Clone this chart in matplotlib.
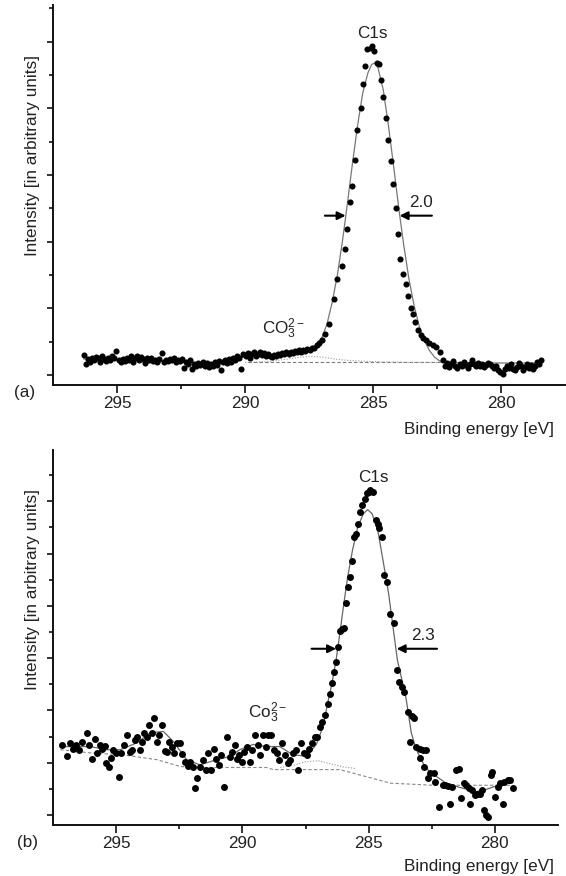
import matplotlib
matplotlib.use('Agg')
import matplotlib.pyplot as plt
from matplotlib.ticker import MultipleLocator, FixedLocator, NullFormatter

plt.rcParams['font.family'] = ['Liberation Sans', 'DejaVu Sans']
plt.rcParams['mathtext.fontset'] = 'custom'
plt.rcParams['mathtext.rm'] = 'Liberation Sans'
plt.rcParams['mathtext.it'] = 'Liberation Sans:italic'
plt.rcParams['mathtext.bf'] = 'Liberation Sans:bold'

# ---------------- data ----------------
x_major_ticks = [295, 290, 285, 280]
x_tick_labels = ['295', '290', '285', '280']
x_minor_ticks = [292.5, 287.5, 282.5]

# panel (a) measured points
a_energy = [296.30, 296.22, 296.14, 296.06, 295.98, 295.90, 295.82, 295.74, 295.66, 295.58,
            295.50, 295.42, 295.34, 295.26, 295.18, 295.10, 295.02, 294.94, 294.86, 294.78,
            294.70, 294.62, 294.54, 294.46, 294.38, 294.30, 294.22, 294.14, 294.06, 293.98,
            293.90, 293.82, 293.74, 293.66, 293.58, 293.50, 293.42, 293.34, 293.26, 293.18,
            293.10, 293.02, 292.94, 292.86, 292.78, 292.70, 292.62, 292.54, 292.46, 292.38,
            292.30, 292.22, 292.14, 292.06, 291.98, 291.90, 291.82, 291.74, 291.66, 291.58,
            291.50, 291.42, 291.34, 291.26, 291.18, 291.10, 291.02, 290.94, 290.86, 290.78,
            290.70, 290.62, 290.54, 290.46, 290.38, 290.30, 290.22, 290.14, 290.06, 289.98,
            289.90, 289.82, 289.74, 289.66, 289.58, 289.50, 289.42, 289.34, 289.26, 289.18,
            289.10, 289.02, 288.94, 288.86, 288.78, 288.70, 288.62, 288.54, 288.46, 288.38,
            288.30, 288.22, 288.14, 288.06, 287.98, 287.90, 287.82, 287.74, 287.66, 287.58,
            287.48, 287.38, 287.30, 287.20, 287.12, 287.00, 286.86, 286.72, 286.54, 286.41,
            286.23, 286.11, 286.03, 285.90, 285.81, 285.70, 285.61, 285.46, 285.39, 285.31,
            285.22, 285.09, 285.03, 284.96, 284.84, 284.78, 284.70, 284.61, 284.50, 284.40,
            284.30, 284.22, 284.11, 284.02, 283.93, 283.82, 283.73, 283.63, 283.52, 283.45,
            283.35, 283.25, 283.14, 283.04, 282.93, 282.80, 282.66, 282.52, 282.38, 282.26,
            282.18, 282.10, 282.02, 281.94, 281.86, 281.78, 281.70, 281.62, 281.54, 281.46,
            281.38, 281.30, 281.22, 281.14, 281.06, 280.98, 280.90, 280.82, 280.74, 280.66,
            280.58, 280.50, 280.42, 280.34, 280.26, 280.18, 280.10, 280.02, 279.94, 279.86,
            279.78, 279.70, 279.62, 279.54, 279.46, 279.38, 279.30, 279.22, 279.14, 279.06,
            278.98, 278.90, 278.82, 278.74, 278.66, 278.58, 278.50, 278.42]
a_counts = [0.30, 0.17, 0.24, 0.20, 0.26, 0.22, 0.27, 0.25, 0.19, 0.28,
            0.24, 0.21, 0.26, 0.23, 0.28, 0.25, 0.36, 0.22, 0.19, 0.24,
            0.21, 0.26, 0.23, 0.28, 0.20, 0.25, 0.29, 0.22, 0.27, 0.24,
            0.18, 0.26, 0.22, 0.25, 0.21, 0.23, 0.19, 0.24, 0.33, 0.20,
            0.23, 0.21, 0.24, 0.22, 0.25, 0.20, 0.23, 0.21, 0.24, 0.10,
            0.19, 0.16, 0.22, 0.09, 0.17, 0.13, 0.18, 0.15, 0.20, 0.14,
            0.18, 0.12, 0.17, 0.13, 0.19, 0.15, 0.21, 0.08, 0.19, 0.22,
            0.18, 0.24, 0.20, 0.26, 0.23, 0.28, 0.25, 0.09, 0.31, 0.28,
            0.33, 0.26, 0.31, 0.34, 0.29, 0.32, 0.35, 0.30, 0.33, 0.28,
            0.31, 0.29, 0.27, 0.30, 0.28, 0.32, 0.30, 0.33, 0.31, 0.34,
            0.32, 0.35, 0.33, 0.36, 0.34, 0.37, 0.35, 0.38, 0.36, 0.39,
            0.37, 0.40, 0.40, 0.45, 0.48, 0.52, 0.62, 0.77, 1.14, 1.44,
            1.63, 1.89, 2.19, 2.60, 2.84, 3.22, 3.67, 4.00, 4.36, 4.64,
            4.89, 4.90, 4.94, 4.86, 4.68, 4.66, 4.43, 4.17, 3.85, 3.52,
            3.21, 2.86, 2.50, 2.12, 1.74, 1.52, 1.37, 1.19, 1.00, 0.92,
            0.80, 0.68, 0.60, 0.55, 0.52, 0.48, 0.45, 0.42, 0.35, 0.22,
            0.14, 0.18, 0.12, 0.16, 0.21, 0.14, 0.10, 0.17, 0.13, 0.19,
            0.15, 0.11, 0.17, 0.22, 0.16, 0.13, 0.18, 0.14, 0.17, 0.12,
            0.15, 0.18, 0.16, 0.14, 0.10, 0.13, 0.08, 0.05, 0.02, 0.09,
            0.14, 0.11, 0.16, 0.09, 0.07, 0.12, 0.18, 0.13, 0.07, 0.12,
            0.17, 0.11, 0.15, 0.09, 0.13, 0.19, 0.16, 0.22]

# panel (a) fitted envelope
a_fit_energy = [296.3, 295.5, 294.5, 293.5, 292.5, 291.5, 290.8, 290.3, 289.8, 289.0,
                288.4, 287.8, 287.4, 287.2, 287.0, 286.8, 286.6, 286.4, 286.2, 286.0,
                285.8, 285.6, 285.4, 285.2, 285.05, 284.92, 284.8, 284.6, 284.4, 284.2,
                284.0, 283.8, 283.6, 283.4, 283.2, 283.0, 282.8, 282.6, 282.4, 282.2,
                281.0, 279.5, 278.4]
a_fit_counts = [0.24, 0.23, 0.23, 0.22, 0.19, 0.17, 0.19, 0.25, 0.29, 0.30,
                0.32, 0.35, 0.40, 0.46, 0.56, 0.76, 1.08, 1.48, 1.99, 2.57,
                3.18, 3.75, 4.23, 4.53, 4.66, 4.68, 4.60, 4.28, 3.75, 3.15,
                2.52, 1.95, 1.45, 1.05, 0.74, 0.52, 0.37, 0.27, 0.21, 0.19,
                0.18, 0.18, 0.18]
# panel (a) background and carbonate component
a_bg_energy = [289.9, 282.3]
a_bg_counts = [0.19, 0.19]
a_co3_energy = [290.0, 289.2, 288.5, 288.0, 287.5, 287.0, 286.5, 286.0, 285.0, 283.5, 282.3]
a_co3_counts = [0.19, 0.20, 0.23, 0.26, 0.28, 0.27, 0.24, 0.22, 0.20, 0.19, 0.19]

# panel (b) measured points
b_energy = [297.14, 296.96, 296.83, 296.71, 296.57, 296.46, 296.36, 296.17, 296.07, 295.97,
            295.83, 295.74, 295.64, 295.57, 295.43, 295.40, 295.29, 295.21, 295.11, 295.00,
            294.89, 294.79, 294.69, 294.57, 294.46, 294.36, 294.26, 294.17, 294.07, 293.97,
            293.89, 293.79, 293.69, 293.57, 293.50, 293.40, 293.29, 293.17, 293.07, 292.97,
            292.89, 292.79, 292.69, 292.57, 292.47, 292.39, 292.29, 292.17, 292.07, 291.97,
            291.86, 291.79, 291.69, 291.57, 291.46, 291.36, 291.26, 291.14, 291.03, 290.93,
            290.83, 290.71, 290.60, 290.50, 290.40, 290.29, 290.21, 290.14, 290.03, 289.93,
            289.83, 289.71, 289.60, 289.50, 289.40, 289.29, 289.17, 289.07, 288.97, 288.86,
            288.74, 288.64, 288.54, 288.43, 288.31, 288.21, 288.11, 288.00, 287.89, 287.79,
            287.69, 287.57, 287.46, 287.36, 287.26, 287.14, 287.03, 286.93, 286.83, 286.71,
            286.60, 286.53, 286.46, 286.36, 286.29, 286.21, 286.14, 286.04, 285.97, 285.89,
            285.83, 285.74, 285.67, 285.57, 285.50, 285.43, 285.36, 285.26, 285.14, 285.07,
            285.00, 284.93, 284.83, 284.71, 284.64, 284.57, 284.46, 284.40, 284.29, 284.14,
            284.00, 283.89, 283.79, 283.69, 283.60, 283.46, 283.36, 283.29, 283.21, 283.14,
            282.97, 282.86, 282.74, 282.97, 282.79, 282.64, 282.57, 282.43, 282.36, 282.21,
            282.07, 281.97, 281.86, 281.79, 281.71, 281.54, 281.43, 281.36, 281.21, 281.14,
            281.03, 281.00, 280.89, 280.79, 280.69, 280.60, 280.50, 280.43, 280.36, 280.29,
            280.17, 280.11, 280.00, 279.89, 279.79, 279.69, 279.64, 279.50, 279.40, 279.29]
b_counts = [1.34, 1.13, 1.38, 1.27, 1.34, 1.24, 1.40, 1.56, 1.34, 1.08,
            1.45, 1.19, 1.34, 1.27, 1.32, 0.99, 0.92, 1.10, 1.25, 1.19,
            0.73, 1.19, 1.34, 1.53, 1.21, 1.24, 1.43, 1.50, 1.25, 1.40,
            1.56, 1.50, 1.72, 1.56, 1.85, 1.40, 1.53, 1.72, 1.23, 1.21,
            1.40, 1.31, 1.18, 1.37, 1.37, 1.17, 1.02, 0.94, 1.02, 0.92,
            0.51, 0.70, 0.92, 1.06, 0.86, 1.18, 0.86, 1.27, 1.08, 0.96,
            1.15, 0.54, 1.50, 1.11, 1.21, 1.34, 1.08, 1.15, 1.02, 1.21,
            1.31, 1.02, 1.24, 1.53, 1.34, 1.15, 1.53, 1.31, 1.53, 1.53,
            1.24, 1.18, 1.05, 1.37, 1.15, 0.99, 1.05, 1.18, 1.25, 0.86,
            1.38, 1.18, 1.15, 1.27, 1.37, 1.50, 1.50, 1.69, 1.78, 1.91,
            2.13, 2.32, 2.52, 2.74, 2.93, 3.22, 3.52, 3.55, 3.57, 4.06,
            4.36, 4.55, 4.86, 5.32, 5.38, 5.57, 5.80, 5.92, 6.05, 6.15,
            6.18, 6.21, 6.18, 5.64, 5.57, 5.48, 5.32, 4.59, 4.46, 3.85,
            3.68, 2.77, 2.55, 2.45, 2.36, 1.97, 1.40, 1.89, 1.85, 1.31,
            1.27, 1.24, 1.24, 1.10, 0.92, 0.70, 0.80, 0.80, 0.64, 0.16,
            0.57, 0.57, 0.55, 0.22, 0.54, 0.86, 0.89, 0.32, 0.61, 0.57,
            0.51, 0.22, 0.48, 0.38, 0.41, 0.41, 0.48, 0.10, 0.00, -0.03,
            0.76, 0.83, 0.35, 0.54, 0.61, 0.22, 0.64, 0.67, 0.67, 0.51]

# panel (b) fitted envelope
b_fit_energy = [297.21, 296.03, 295.37, 294.84, 294.18, 293.66, 293.13, 292.74, 292.21, 291.68,
                291.02, 290.49, 290.10, 289.57, 289.04, 288.52, 287.99, 287.46, 287.07, 286.80,
                286.64, 286.46, 286.29, 286.14, 286.00, 285.83, 285.64, 285.43, 285.21, 285.04,
                284.86, 284.64, 284.43, 284.21, 284.00, 283.86, 283.64, 283.51, 283.31, 283.11,
                282.85, 282.59, 281.93, 281.40, 280.74, 280.35, 279.82, 279.49, 279.30]
b_fit_counts = [1.31, 1.31, 1.25, 1.25, 1.38, 1.57, 1.60, 1.41, 1.06, 0.96,
                1.06, 1.12, 1.25, 1.35, 1.31, 1.31, 1.15, 1.13, 1.35, 1.70,
                2.10, 2.50, 2.96, 3.47, 3.98, 4.55, 5.06, 5.51, 5.76, 5.84,
                5.76, 5.45, 4.87, 4.24, 3.47, 2.96, 2.50, 2.21, 1.57, 1.25,
                1.00, 0.83, 0.61, 0.53, 0.45, 0.49, 0.58, 0.64, 0.62]
# panel (b) background and carbonate component
b_bg_energy = [297.21, 296.03, 294.71, 293.39, 292.47, 291.94, 289.04, 288.78, 286.15,
               285.29, 284.14, 282.43, 279.36]
b_bg_counts = [1.25, 1.19, 1.15, 1.06, 0.93, 0.91, 0.91, 0.87, 0.87,
               0.76, 0.61, 0.57, 0.57]
b_co3_energy = [288.5, 288.0, 287.5, 287.0, 286.5, 286.0, 285.5]
b_co3_counts = [0.91, 0.95, 1.02, 1.04, 0.98, 0.92, 0.89]

# ---------------- figure ----------------
W, H = 566, 876
fig = plt.figure(figsize=(W / 100, H / 100), dpi=100)


def rect(left, top, right, bottom):
    return [left / W, 1 - bottom / H, (right - left) / W, (bottom - top) / H]


ax1 = fig.add_axes(rect(53, 5, 565, 385))
ax2 = fig.add_axes(rect(53, 450, 558, 824.5))

FS = 12.3
TXT = '#222222'


def style(ax, ylim):
    ax.set_xlim(297.5, 277.5)
    ax.set_ylim(*ylim)
    for s in ['top', 'right']:
        ax.spines[s].set_visible(False)
    for s in ['left', 'bottom']:
        ax.spines[s].set_linewidth(1.4)
        ax.spines[s].set_color('#111111')
    ax.xaxis.set_major_locator(FixedLocator(x_major_ticks))
    ax.xaxis.set_minor_locator(FixedLocator(x_minor_ticks))
    ax.set_xticklabels(x_tick_labels)
    ax.yaxis.set_major_locator(MultipleLocator(1))
    ax.yaxis.set_minor_locator(MultipleLocator(0.5))
    ax.yaxis.set_major_formatter(NullFormatter())
    ax.tick_params(axis='x', which='major', length=5.5, width=1.2, labelsize=FS,
                   pad=2.5, colors='#111111', labelcolor=TXT)
    ax.tick_params(axis='x', which='minor', length=3.2, width=1.2, colors='#111111')
    ax.tick_params(axis='y', which='major', length=4.5, width=1.2, colors='#111111')
    ax.tick_params(axis='y', which='minor', length=3.2, width=1.2, colors='#111111')


style(ax1, (-0.15, 5.55))
style(ax2, (-0.18, 6.98))

# panel (a)
ax1.plot(a_bg_energy, a_bg_counts, ls=(0, (3, 2)), color='#777777', lw=0.8)
ax1.plot(a_co3_energy, a_co3_counts, ls=(0, (1, 1.5)), color='#999999', lw=0.8)
ax1.plot(a_fit_energy, a_fit_counts, color='#777777', lw=0.9)
ax1.plot(a_energy, a_counts, 'o', color='black', ms=4.4, mew=0)

ax1.text(285.04, 5.12, 'C1s', ha='center', va='center', fontsize=FS, color=TXT)
ax1.text(289.34, 0.61, r'CO$_3^{2-}$', ha='left', va='baseline', fontsize=FS, color=TXT)
arrow = dict(arrowstyle='-|>', color='black', lw=1.5, mutation_scale=12,
             shrinkA=0, shrinkB=0)
ax1.annotate('', xy=(286.07, 2.39), xytext=(286.88, 2.39), arrowprops=arrow)
ax1.annotate('', xy=(283.96, 2.39), xytext=(282.70, 2.39), arrowprops=arrow)
ax1.text(283.12, 2.59, '2.0', ha='center', va='center', fontsize=FS, color=TXT)

# panel (b)
ax2.plot(b_bg_energy, b_bg_counts, ls=(0, (3, 2)), color='#888888', lw=0.8)
ax2.plot(b_co3_energy, b_co3_counts, ls=(0, (1, 1.5)), color='#999999', lw=0.8)
ax2.plot(b_fit_energy, b_fit_counts, color='#666666', lw=0.9)
ax2.plot(b_energy, b_counts, 'o', color='black', ms=5.0, mew=0)

ax2.text(284.80, 6.46, 'C1s', ha='center', va='center', fontsize=FS, color=TXT)
ax2.text(289.78, 1.85, r'Co$_3^{2-}$', ha='left', va='baseline', fontsize=FS, color=TXT)
ax2.annotate('', xy=(286.29, 3.18), xytext=(287.26, 3.18), arrowprops=arrow)
ax2.annotate('', xy=(283.89, 3.18), xytext=(282.29, 3.18), arrowprops=arrow)
ax2.text(282.86, 3.44, '2.3', ha='center', va='center', fontsize=FS, color=TXT)

# axis titles and panel letters
fig.text(33 / W, 1 - 156 / H, 'Intensity [in arbitrary units]', rotation=90,
         ha='center', va='center', fontsize=FS, color=TXT)
fig.text(33 / W, 1 - 589 / H, 'Intensity [in arbitrary units]', rotation=90,
         ha='center', va='center', fontsize=FS, color=TXT)
fig.text(554 / W, 1 - 434 / H, 'Binding energy [eV]', ha='right', va='baseline',
         fontsize=FS, color=TXT)
fig.text(554 / W, 1 - 871 / H, 'Binding energy [eV]', ha='right', va='baseline',
         fontsize=FS, color=TXT)
fig.text(25 / W, 1 - 393 / H, '(a)', ha='center', va='center', fontsize=FS, color=TXT)
fig.text(28 / W, 1 - 842 / H, '(b)', ha='center', va='center', fontsize=FS, color=TXT)

fig.savefig('out.png', dpi=100)
